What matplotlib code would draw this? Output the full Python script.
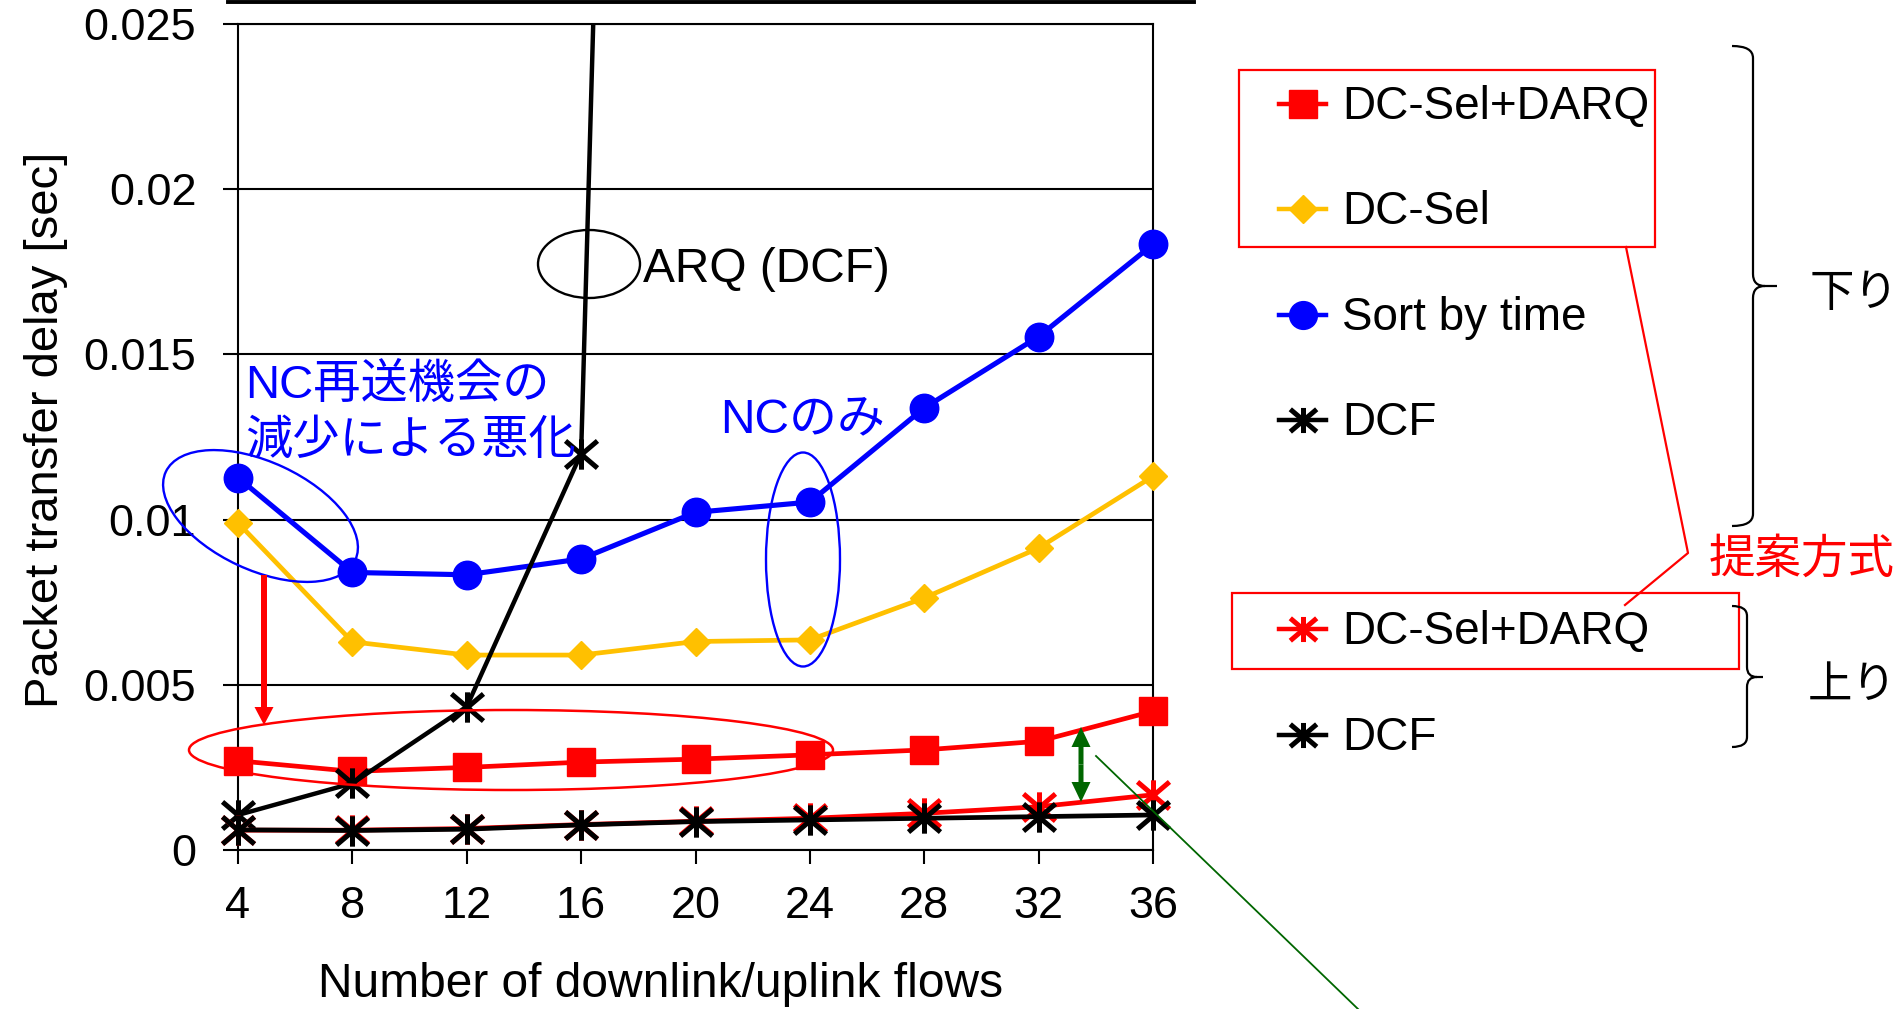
import matplotlib
matplotlib.use("Agg")
import matplotlib.pyplot as plt
from matplotlib.path import Path
from matplotlib.patches import Ellipse, Rectangle, FancyArrow, PathPatch
from matplotlib.transforms import Bbox, TransformedBbox
import numpy as np

plt.rcParams['font.family'] = ['Liberation Sans', 'Noto Sans CJK JP']

# ---------------- data ----------------
flows = [4, 8, 12, 16, 20, 24, 28, 32, 36]
ytick_values = [0, 0.005, 0.01, 0.015, 0.02, 0.025]
ytick_labels = ['0', '0.005', '0.01', '0.015', '0.02', '0.025']

# downlink
dcsel_darq_down = [0.0027, 0.00238, 0.0025, 0.00266, 0.00275, 0.00288, 0.00303, 0.00329, 0.0042]
dc_sel_down = [0.0099, 0.0063, 0.0059, 0.0059, 0.00631, 0.00636, 0.00763, 0.00914, 0.01131]
sort_by_time = [0.01127, 0.0084, 0.00833, 0.00881, 0.01022, 0.01053, 0.01338, 0.01554, 0.01833]
dcf_down = [0.00106, 0.00202, 0.00434, 0.0120, 0.135, np.nan, np.nan, np.nan, np.nan]
# uplink
dcsel_darq_up = [0.0006, 0.0006, 0.00065, 0.00077, 0.00087, 0.00096, 0.00111, 0.00131, 0.00167]
dcf_up = [0.00061, 0.00059, 0.00063, 0.00076, 0.00086, 0.00091, 0.00096, 0.00101, 0.00106]

legend_labels = ['DC-Sel+DARQ', 'DC-Sel', 'Sort by time', 'DCF', 'DC-Sel+DARQ', 'DCF']

# ---------------- styles ----------------
BLUE = '#0000FF'
RED = '#FF0000'
YEL = '#FFC000'
GREEN = '#006600'
AST = Path([(0, -0.95), (0, 0.95), (-1, -0.85), (1, 0.85), (-1, 0.85), (1, -0.85)],
           [Path.MOVETO, Path.LINETO] * 3)

st_darq_down = dict(color=RED, lw=3.4, marker='s', ms=20, mfc=RED, mec=RED, mew=1)
st_sel_down = dict(color=YEL, lw=3.4, marker='D', ms=14.5, mfc=YEL, mec=YEL, mew=1)
st_sort = dict(color=BLUE, lw=3.7, marker='o', ms=20.5, mfc=BLUE, mec=BLUE, mew=1)
st_dcf_down = dict(color='black', lw=3.2, marker=AST, ms=23, mew=3.6)
st_darq_up = dict(color=RED, lw=3.4, marker=AST, ms=23, mew=3.6)
st_dcf_up = dict(color='black', lw=3.4, marker=AST, ms=23, mew=3.6)

W, H = 1901, 1009
fig = plt.figure(figsize=(W / 100, H / 100), dpi=100)
L, R, T, B = 238, 1153, 24, 850
ax = fig.add_axes([L / W, (H - B) / H, (R - L) / W, (B - T) / H])

series = [
    (dcsel_darq_down, st_darq_down, 3),
    (dc_sel_down, st_sel_down, 4),
    (sort_by_time, st_sort, 5),
    (dcf_down, st_dcf_down, 6),
    (dcsel_darq_up, st_darq_up, 7),
    (dcf_up, st_dcf_up, 8),
]
clipbox = TransformedBbox(Bbox([[-0.1, 0.0], [1.1, 1.0]]), ax.transAxes)
for vals, st, z in series:
    ln, = ax.plot(flows, vals, zorder=z, **st)
    ln.set_clip_box(clipbox)

ax.set_xlim(flows[0], flows[-1])
ax.set_ylim(ytick_values[0], ytick_values[-1])
ax.set_xticks(flows)
ax.set_xticklabels([str(f) for f in flows])
ax.set_yticks(ytick_values)
ax.set_yticklabels(ytick_labels)
ax.yaxis.grid(True, color='black', lw=1.5)
ax.set_axisbelow(True)
for sp in ax.spines.values():
    sp.set_linewidth(1.5)
    sp.set_color('black')
ax.tick_params(axis='y', direction='out', length=11, width=1.5, labelsize=32.5, pad=19)
ax.tick_params(axis='x', direction='out', length=10, width=1.5, labelsize=32.5, pad=16)

ax.set_xlabel('Number of downlink/uplink flows', fontsize=34.5, va='baseline')
ax.xaxis.set_label_coords((661 - L) / (R - L), (B - 997) / (B - T))
ax.set_ylabel('Packet transfer delay [sec]', fontsize=34, va='center', ha='center')
ax.yaxis.set_label_coords((46 - L) / (R - L), (B - 430) / (B - T))

# ---------------- overlay (pixel coordinates) ----------------
ov = fig.add_axes([0, 0, 1, 1])
ov.set_xlim(0, W)
ov.set_ylim(H, 0)
ov.axis('off')
ov.set_zorder(ax.get_zorder() + 1)

# top rule (remains of a title box)
ov.plot([228, 1194], [2, 2], color='black', lw=2.8)

# legend
leg_rows = [(104, st_darq_down, 20), (209, st_sel_down, 14.5), (315, st_sort, 20),
            (420, st_dcf_down, 19), (629, st_darq_up, 19), (735, st_dcf_up, 19)]
for (yy, st, ms), lab in zip(leg_rows, legend_labels):
    s = dict(st)
    s['ms'] = ms
    s['lw'] = 3.2
    ov.plot([1279, 1303, 1326], [yy, yy, yy], markevery=[1], **s)
    ov.text(1342, yy + 15, lab, fontsize=33, ha='left', va='baseline', color='black')

ov.add_patch(Rectangle((1239, 70), 416, 177, fill=False, ec=RED, lw=1.6))
ov.add_patch(Rectangle((1232, 593), 507, 76, fill=False, ec=RED, lw=1.6))
ov.plot([1626, 1688, 1625], [247, 553, 605], color=RED, lw=1.6)
ov.text(1709, 573, '提案方式', fontsize=33.5, color=RED, ha='left', va='baseline')


def brace(x_end, x_line, x_tip, y_top, y_mid, y_bot, r=12):
    verts = [(x_end, y_top), (x_line, y_top), (x_line, y_top + r),
             (x_line, y_mid - r), (x_line, y_mid), (x_line + r, y_mid),
             (x_tip, y_mid),
             (x_line + r, y_mid), (x_line, y_mid), (x_line, y_mid + r),
             (x_line, y_bot - r), (x_line, y_bot), (x_end, y_bot)]
    codes = [Path.MOVETO, Path.CURVE3, Path.CURVE3,
             Path.LINETO, Path.CURVE3, Path.CURVE3,
             Path.LINETO,
             Path.MOVETO, Path.CURVE3, Path.CURVE3,
             Path.LINETO, Path.CURVE3, Path.CURVE3]
    ov.add_patch(PathPatch(Path(verts, codes), fill=False, ec='black', lw=1.6))


brace(1732, 1753, 1777, 46, 286, 526)
brace(1732, 1747, 1763, 606, 677, 747, r=10)
ov.text(1810, 306, '下り', fontsize=32, color='black', ha='left', va='baseline')
ov.text(1808, 698, '上り', fontsize=32, color='black', ha='left', va='baseline')

# annotations in plot
ov.add_patch(Ellipse((589, 264), 102, 68, fill=False, ec='black', lw=1.7))
ov.text(643, 282, 'ARQ (DCF)', fontsize=34.5, color='black', ha='left', va='baseline')

ov.add_patch(Ellipse((260.5, 516), 209, 108, angle=25, fill=False, ec=BLUE, lw=1.7))
ov.text(245, 398, 'NC再送機会の', fontsize=34, color=BLUE, ha='left', va='baseline')
ov.text(245, 454, '減少による悪化', fontsize=34, color=BLUE, ha='left', va='baseline')

ov.add_patch(Ellipse((803, 559.5), 74, 214, fill=False, ec=BLUE, lw=1.7))
ov.text(720, 433, 'NCのみ', fontsize=34.5, color=BLUE, ha='left', va='baseline')

ov.add_patch(Ellipse((511, 750), 644, 80, fill=False, ec=RED, lw=1.8))
ov.add_patch(FancyArrow(264, 575, 0, 150, width=6, head_width=19, head_length=18,
                        length_includes_head=True, color=RED, lw=0))

ov.add_patch(FancyArrow(1081, 764.5, 0, -37.5, width=5, head_width=19, head_length=20,
                        length_includes_head=True, color=GREEN, lw=0))
ov.add_patch(FancyArrow(1081, 764.5, 0, 37.5, width=5, head_width=19, head_length=20,
                        length_includes_head=True, color=GREEN, lw=0))
ov.plot([1096, 1358], [756, 1009], color=GREEN, lw=1.3)

fig.savefig('out.png', dpi=100)
